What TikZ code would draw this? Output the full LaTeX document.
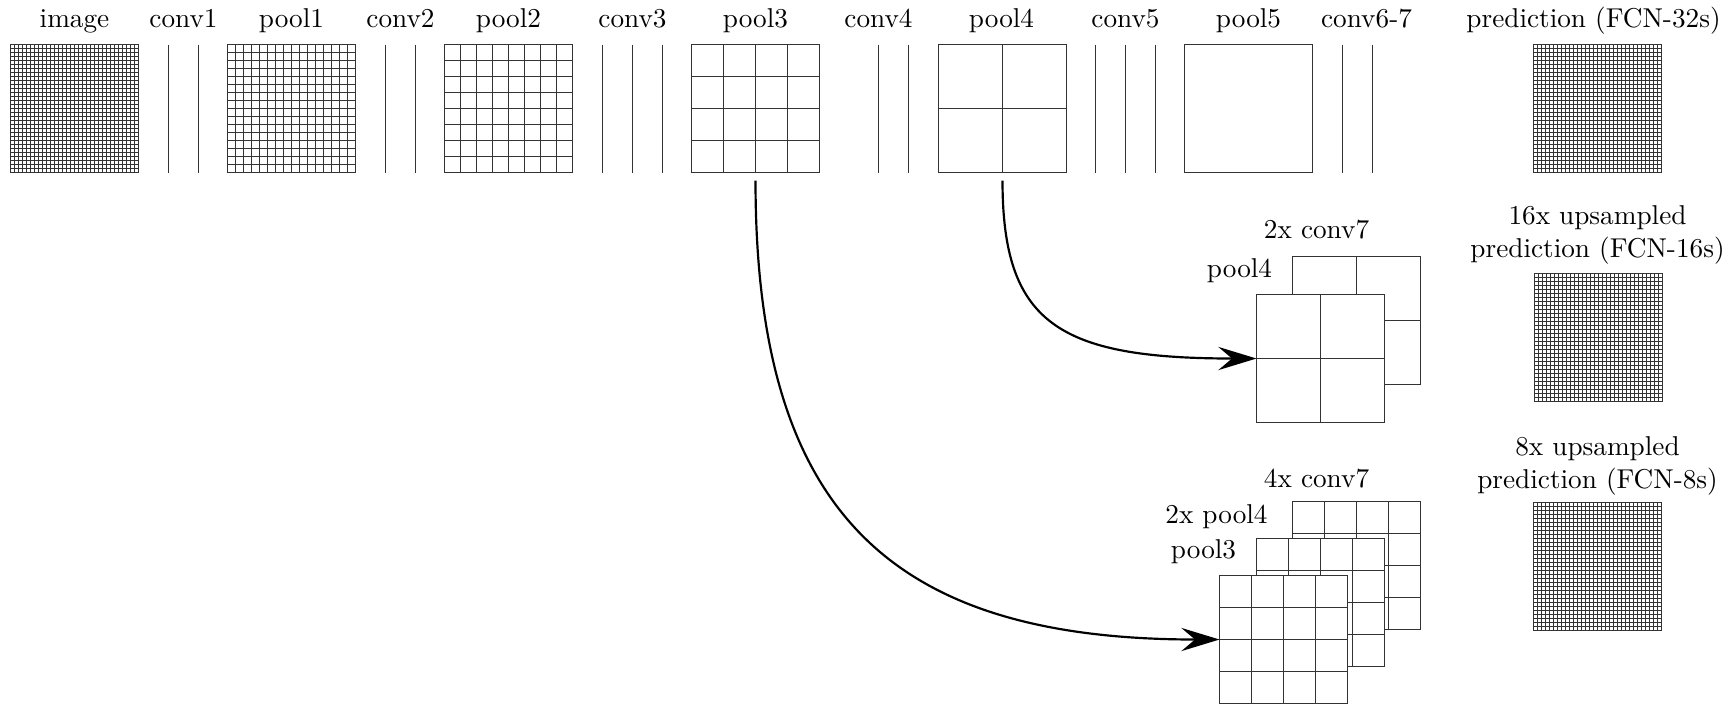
\documentclass[tikz,border=0pt]{standalone}
\usepackage{tikz}
\usetikzlibrary{arrows.meta,calc}

\definecolor{gridgray}{gray}{0.2}

\tikzset{
  fmap/.style={draw=gridgray, fill=white, inner sep=0pt, outer sep=0pt, minimum size=46.98pt, anchor=north west},
  lbl/.style={anchor=base, inner sep=0pt, align=center},
  skiparrow/.style={line width=0.8pt, -{Stealth[length=14pt,width=8.5pt,inset=5pt]}}
}
% feature map: name, left, top, cells per side
\newcommand{\fmap}[4]{%
  \node[fmap] (#1) at (#2,#3) {};
  \ifnum#4>1
    \pgfmathtruncatemacro\lastk{#4-1}
    \foreach \k in {1,...,\lastk} {
      \draw[gridgray] ($(#1.north west)!\k/#4!(#1.north east)$) -- ($(#1.south west)!\k/#4!(#1.south east)$);
      \draw[gridgray] ($(#1.north west)!\k/#4!(#1.south west)$) -- ($(#1.north east)!\k/#4!(#1.south east)$);
    }
  \fi
}

\begin{document}
\begin{tikzpicture}[x=0.367pt, y=-0.367pt]
    \useasboundingbox (0,0) rectangle (1731,713);
    \begin{scope}[shift={(0.5,0.5)}]

    % top row
    \fmap{image}{10}{44}{32}
    \fmap{pool1}{227}{44}{16}
    \fmap{pool2}{444}{44}{8}
    \fmap{pool3}{691}{44}{4}
    \fmap{pool4}{938}{44}{2}
    \fmap{pool5}{1184}{44}{1}
    \fmap{pred32}{1533}{44}{32}
    \foreach \x in {168,198,385,415,602,632,662,878,908,1095,1125,1155,1342,1372}
        \draw[gridgray] (\x,44) -- (\x,172);

    \node[lbl] (l-image) at (74,27) {image};
    \node[lbl] (l-conv1) at (183,27) {conv1};
    \node[lbl] (l-pool1) at (291,27) {pool1};
    \node[lbl] (l-conv2) at (400,27) {conv2};
    \node[lbl] (l-pool2) at (508,27) {pool2};
    \node[lbl] (l-conv3) at (632,27) {conv3};
    \node[lbl] (l-pool3) at (755,27) {pool3};
    \node[lbl] (l-conv4) at (878,27) {conv4};
    \node[lbl] (l-pool4) at (1001,27) {pool4};
    \node[lbl] (l-conv5) at (1125,27) {conv5};
    \node[lbl] (l-pool5) at (1248,27) {pool5};
    \node[lbl] (l-conv67) at (1366,27) {conv6-7};
    \node[lbl] (l-pred32) at (1593,27) {prediction (FCN-32s)};

    % FCN-16s
    \fmap{c7a}{1292}{256}{2}
    \fmap{p4a}{1256}{294}{2}
    \fmap{pred16}{1534}{273}{32}
    \node[lbl] (l-c7a) at (1316,238) {2x conv7};
    \node[lbl] (l-p4a) at (1239,277) {pool4};
    \node[lbl] (l-pred16) at (1597,257) {16x upsampled\\prediction (FCN-16s)};

    % FCN-8s
    \fmap{c7b}{1292}{501}{4}
    \fmap{p4b}{1256}{538}{4}
    \fmap{p3b}{1219}{575}{4}
    \fmap{pred8}{1533}{502}{32}
    \node[lbl] (l-c7b) at (1316,487) {4x conv7};
    \node[lbl] (l-p4b) at (1216,523) {2x pool4};
    \node[lbl] (l-p3b) at (1203,558) {pool3};
    \node[lbl] (l-pred8) at (1597,488) {8x upsampled\\prediction (FCN-8s)};

    % skips
    \draw[skiparrow, shorten <=3pt] (pool4.south) .. controls +(0,150) and +(-199,0) .. (p4a.west);
    \draw[skiparrow, shorten <=3pt] (pool3.south) .. controls +(0,339) and +(-330,0) .. (p3b.west);
    \end{scope}
\end{tikzpicture}
\end{document}
